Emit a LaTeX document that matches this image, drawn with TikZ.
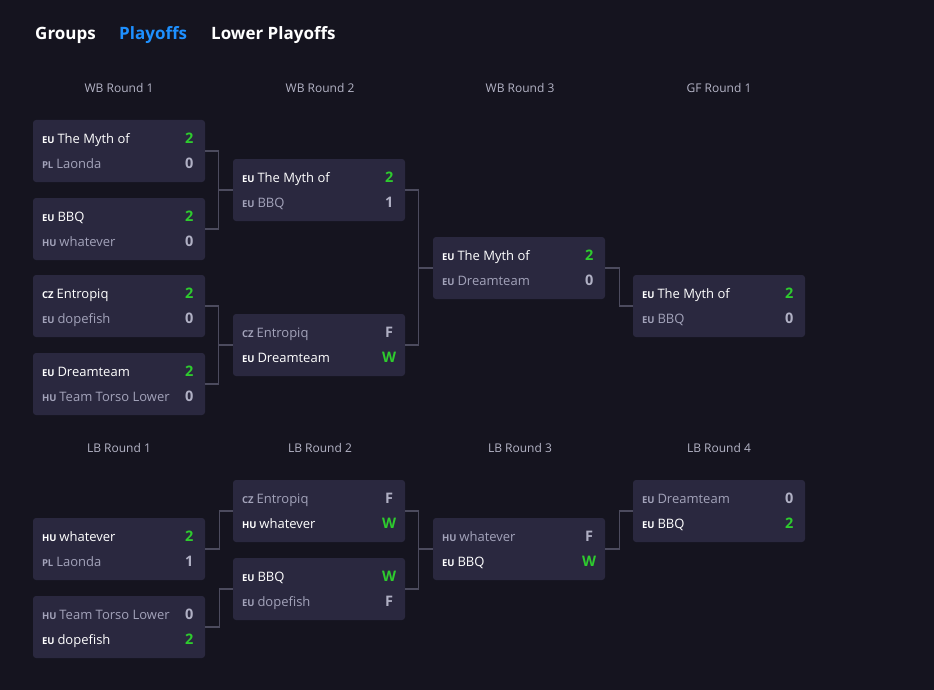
\documentclass[tikz,border=0pt]{standalone}
\usepackage{fontspec}
\setmainfont{Open Sans}
\usetikzlibrary{positioning, calc}
\definecolor{pagebg}{HTML}{15141F}
\definecolor{boxbg}{HTML}{2A283F}
\definecolor{linkgray}{HTML}{4C4B5E}
\definecolor{headgray}{HTML}{B4B4C6}
\definecolor{txtwin}{HTML}{FFFFFF}
\definecolor{txtlose}{HTML}{A3A3BA}
\definecolor{scwin}{HTML}{2ECC2E}
\definecolor{sclose}{HTML}{B0B0C4}
\definecolor{tabblue}{HTML}{1E90FF}
\tikzset{
  matchbox/.style={
    fill=boxbg, rounded corners=3pt, inner sep=0pt,
    minimum width=172pt, minimum height=62pt
  },
  teamname/.style={
    anchor=base west, inner sep=0pt,
    font=\fontsize{13}{15}\selectfont
  },
  score/.style={
    anchor=base, inner sep=0pt,
    font=\fontsize{14.5}{16}\selectfont\bfseries
  },
  roundtitle/.style={
    text=headgray, inner sep=0pt,
    font=\fontsize{12}{14}\selectfont
  },
  tab/.style={
    anchor=west, inner sep=0pt,
    font=\fontsize{17}{20}\selectfont\bfseries
  },
  link/.style={
    draw=linkgray, line width=1.2pt
  }
}
% country code in front of a team
\newcommand{\cc}[1]{{\fontsize{9.5}{10}\selectfont\bfseries #1}\hspace{3pt}}
% one match: name, centre, code/team/score of both rows, winning row
\newcommand{\matchup}[9]{%
  \node[matchbox] (#1) at (#2) {};
  \ifnum#9=1 \colorlet{ta}{txtwin}\colorlet{sa}{scwin}\colorlet{tb}{txtlose}\colorlet{sb}{sclose}%
  \else \colorlet{ta}{txtlose}\colorlet{sa}{sclose}\colorlet{tb}{txtwin}\colorlet{sb}{scwin}\fi
  \node[teamname, text=ta] (#1-a) at ($(#1.north west)+(9,23.5)$) {\cc{#3}#4};
  \node[score, text=sa] (#1-as) at ($(#1.north east)+(-16,24)$) {#5};
  \node[teamname, text=tb] (#1-b) at ($(#1.north west)+(9,48.5)$) {\cc{#6}#7};
  \node[score, text=sb] (#1-bs) at ($(#1.north east)+(-16,49)$) {#8};
}
% two matches feeding one
\newcommand{\joinmatch}[3]{%
  \coordinate (#3-in) at ($(#3.west)+(-14,0)$);
  \draw[link] (#1.east) -| (#3-in) |- (#2.east) (#3-in) -- (#3.west);
}

\begin{document}
\begin{tikzpicture}[x=1pt, y=-1pt]
  \fill[pagebg] (0,0) rectangle (934,690);
  \useasboundingbox (0,0) rectangle (934,690);

  % tabs
  \node[tab, text=white] (groups) at (35,35) {Groups};
  \node[tab, text=tabblue] (playoffs) at (119,35) {Playoffs};
  \node[tab, text=white] (lower) at (211,35) {Lower Playoffs};

  % round titles
  \node[roundtitle] (wbr1) at (119,88) {WB Round 1};
  \node[roundtitle] (wbr2) at (320,88) {WB Round 2};
  \node[roundtitle] (wbr3) at (520,88) {WB Round 3};
  \node[roundtitle] (gfr1) at (719,88) {GF Round 1};
  \node[roundtitle] (lbr1) at (119,448) {LB Round 1};
  \node[roundtitle] (lbr2) at (320,448) {LB Round 2};
  \node[roundtitle] (lbr3) at (520,448) {LB Round 3};
  \node[roundtitle] (lbr4) at (719,448) {LB Round 4};

  % winners bracket
  \matchup{w11}{119,151}{EU}{The Myth of}{2}{PL}{Laonda}{0}{1}
  \matchup{w12}{119,229}{EU}{BBQ}{2}{HU}{whatever}{0}{1}
  \matchup{w13}{119,306}{CZ}{Entropiq}{2}{EU}{dopefish}{0}{1}
  \matchup{w14}{119,384}{EU}{Dreamteam}{2}{HU}{Team Torso Lower}{0}{1}
  \matchup{w21}{319,190}{EU}{The Myth of}{2}{EU}{BBQ}{1}{1}
  \matchup{w22}{319,345}{CZ}{Entropiq}{F}{EU}{Dreamteam}{W}{2}
  \matchup{w31}{519,268}{EU}{The Myth of}{2}{EU}{Dreamteam}{0}{1}
  \matchup{gf1}{719,306}{EU}{The Myth of}{2}{EU}{BBQ}{0}{1}

  % losers bracket
  \matchup{l11}{119,549}{HU}{whatever}{2}{PL}{Laonda}{1}{1}
  \matchup{l12}{119,627}{HU}{Team Torso Lower}{0}{EU}{dopefish}{2}{2}
  \matchup{l21}{319,511}{CZ}{Entropiq}{F}{HU}{whatever}{W}{2}
  \matchup{l22}{319,589}{EU}{BBQ}{W}{EU}{dopefish}{F}{1}
  \matchup{l31}{519,549}{HU}{whatever}{F}{EU}{BBQ}{W}{2}
  \matchup{l41}{719,511}{EU}{Dreamteam}{0}{EU}{BBQ}{2}{2}

  % connectors
  \joinmatch{w11}{w12}{w21}
  \joinmatch{w13}{w14}{w22}
  \joinmatch{w21}{w22}{w31}
  \draw[link] (w31.east) -- ++(14,0) |- (gf1.west);
  \draw[link] (l11.east) -- ++(14,0) |- (l21.west);
  \draw[link] (l12.east) -- ++(14,0) |- (l22.west);
  \joinmatch{l21}{l22}{l31}
  \draw[link] (l31.east) -- ++(14,0) |- (l41.west);
\end{tikzpicture}
\end{document}
